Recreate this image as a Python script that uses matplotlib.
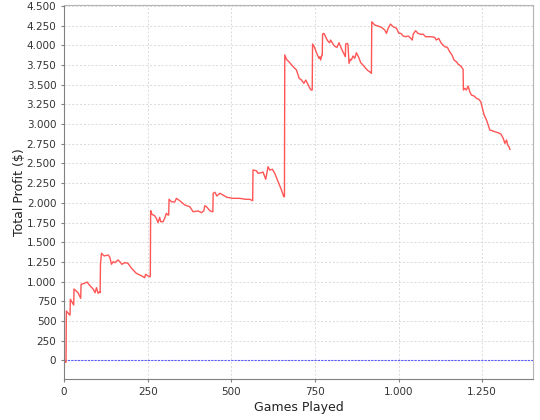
import matplotlib
matplotlib.use("Agg")
import matplotlib.pyplot as plt
from matplotlib.ticker import FuncFormatter, MultipleLocator

# games played / cumulative profit
games = [0, 3, 6, 7, 17, 18, 19, 29, 30, 42, 50, 51, 60, 69, 75, 87, 93, 97, 102, 107, 108,
         109, 112, 120, 132, 137, 142, 147, 153, 161, 167, 173, 182, 191, 202, 216, 231, 241,
         244, 250, 256, 258, 259, 263, 271, 276, 281, 286, 289, 296, 301, 306, 311, 313, 314,
         321, 331, 336, 346, 361, 376, 386, 401, 411, 418, 421, 426, 436, 444, 445, 446, 451,
         457, 466, 475, 487, 505, 525, 543, 555, 564, 565, 575, 580, 590, 595, 603, 610, 615,
         623, 630, 640, 650, 657, 659, 660, 665, 675, 685, 695, 703, 710, 717, 723, 730, 738,
         742, 743, 748, 755, 762, 765, 767, 771, 772, 773, 777, 782, 788, 794, 797, 803, 806,
         812, 816, 822, 829, 836, 841, 842, 847, 849, 852, 856, 859, 864, 869, 874, 881, 887,
         894, 902, 909, 916, 919, 920, 929, 939, 949, 959, 964, 969, 976, 984, 994, 1001, 1007,
         1014, 1021, 1029, 1037, 1041, 1044, 1051, 1058, 1067, 1073, 1081, 1088, 1098, 1108,
         1113, 1120, 1128, 1138, 1146, 1153, 1160, 1166, 1173, 1178, 1186, 1193, 1194, 1198,
         1203, 1208, 1213, 1218, 1226, 1233, 1240, 1246, 1250, 1256, 1263, 1268, 1273, 1280,
         1288, 1298, 1306, 1313, 1318, 1323, 1326, 1330, 1333]
profit = [0, -25, -25, 626, 575, 575, 775, 702, 905, 858, 787, 965, 975, 994, 960, 905, 858,
          922, 851, 871, 860, 1219, 1359, 1325, 1337, 1308, 1219, 1252, 1240, 1274, 1252, 1219,
          1240, 1232, 1168, 1105, 1074, 1049, 1092, 1074, 1062, 1062, 1900, 1854, 1836, 1803,
          1748, 1816, 1760, 1760, 1803, 1867, 1845, 1845, 2045, 2014, 2010, 2057, 2027, 1972,
          1951, 1887, 1896, 1875, 1900, 1963, 1951, 1900, 1887, 1887, 2121, 2134, 2087, 2121,
          2100, 2070, 2057, 2057, 2045, 2045, 2027, 2417, 2408, 2375, 2383, 2391, 2299, 2459,
          2417, 2426, 2375, 2268, 2163, 2078, 2078, 3879, 3823, 3780, 3729, 3687, 3581, 3560,
          3518, 3560, 3496, 3433, 3433, 4017, 3983, 3906, 3835, 3856, 3814, 3877, 3877, 4144,
          4153, 4110, 4059, 4033, 4068, 4026, 4004, 3983, 3975, 4033, 3962, 3899, 3856, 4017,
          4026, 4004, 3772, 3823, 3814, 3865, 3835, 3906, 3848, 3780, 3750, 3708, 3678, 3658,
          3645, 4300, 4258, 4246, 4229, 4195, 4153, 4216, 4271, 4237, 4216, 4153, 4153, 4119,
          4110, 4119, 4089, 4068, 4144, 4186, 4153, 4140, 4144, 4110, 4110, 4110, 4102, 4068,
          4089, 4026, 3983, 3975, 3919, 3877, 3814, 3792, 3763, 3738, 3696, 3433, 3454, 3433,
          3484, 3411, 3369, 3357, 3327, 3315, 3284, 3213, 3115, 3052, 2988, 2925, 2916, 2903,
          2890, 2874, 2819, 2756, 2798, 2734, 2713, 2680]


def dotted(v, pos):
    return f"{int(round(v)):,}".replace(",", ".")


fig = plt.figure(figsize=(5.4, 4.2), dpi=100)
ax = fig.add_axes([64 / 540, 1 - 379 / 420, 469 / 540, 374 / 420])

ax.grid(True, color="#dadada", linestyle=(0, (2, 2)), linewidth=0.7)
ax.set_axisbelow(True)
ax.axhline(0, color="#5a5aff", linestyle=(0, (2, 1)), linewidth=0.8)
ax.plot(games, profit, color="#ff5555", linewidth=1.0)

ax.set_xlim(0, 1402)
ax.set_ylim(-238, 4513)
ax.xaxis.set_major_locator(MultipleLocator(250))
ax.yaxis.set_major_locator(MultipleLocator(250))
ax.xaxis.set_major_formatter(FuncFormatter(dotted))
ax.yaxis.set_major_formatter(FuncFormatter(dotted))

for side in ("left", "bottom"):
    ax.spines[side].set_color("#808080")
for side in ("top", "right"):
    ax.spines[side].set_color("#b4b4b4")
ax.tick_params(colors="#808080", labelcolor="#333333", labelsize=7.5, length=2, width=0.8)

ax.set_xlabel("Games Played", fontsize=9, color="#222222", labelpad=3)
ax.set_ylabel("Total Profit ($)", fontsize=9, color="#222222", labelpad=0.5)

fig.savefig("out.png", dpi=100)
